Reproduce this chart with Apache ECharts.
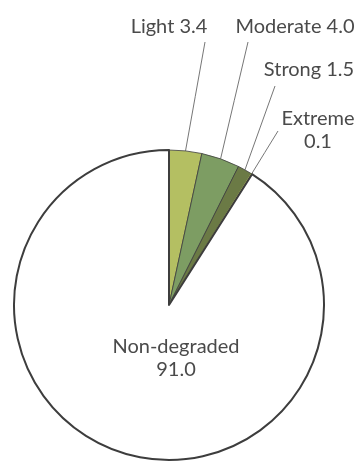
<!DOCTYPE html>
<html><head><meta charset="utf-8">
<script src="https://cdn.jsdelivr.net/npm/echarts@6/dist/echarts.min.js"></script>
<style>html,body{margin:0;padding:0;background:#fff}#c{width:364px;height:463px}</style>
</head><body><div id="c"></div>
<script>
const categories = ['Light', 'Moderate', 'Strong', 'Extreme', 'Non-degraded'];
const values = [3.4, 4.0, 1.5, 0.1, 91.0];
const labelTexts = ['Light 3.4', 'Moderate 4.0', 'Strong 1.5', 'Extreme\n0.1', 'Non-degraded\n91.0'];

const colors = ['#b4bf62', '#7d9d63', '#6b7a45', '#e2ea6c', '#ffffff'];
const labelPos = [
  {x: 169, y: 27, end: [205, 42]},
  {x: 295, y: 27, end: [248, 42]},
  {x: 309, y: 70, end: [275, 86]},
  {x: 318, y: 130, end: [278, 131]},
  {x: 176, y: 358, end: null}
];

const chart = echarts.init(document.getElementById('c'), null, {renderer: 'canvas'});
chart.setOption({
  animation: false,
  backgroundColor: '#fff',
  series: [{
    type: 'pie',
    center: [169, 305],
    radius: 155,
    startAngle: 90,
    clockwise: true,
    avoidLabelOverlap: false,
    data: categories.map((c, i) => ({
      name: c, value: values[i],
      itemStyle: {color: colors[i], borderColor: i === 3 ? '#c8d45a' : '#3d3d3d', borderWidth: i === 4 ? 2 : 0.8},
      label: {position: i === 4 ? 'inside' : 'outside'},
      labelLine: {show: i !== 4}
    })),
    label: {
      formatter: p => labelTexts[p.dataIndex],
      color: '#4a4a4a',
      fontFamily: 'Lato',
      fontSize: 20,
      lineHeight: 23,
      align: 'center'
    },
    labelLine: {lineStyle: {color: '#666', width: 0.9}, length: 10, length2: 10},
    labelLayout: function (params) {
      const lp = labelPos[params.dataIndex];
      const out = {x: lp.x, y: lp.y, align: 'center', verticalAlign: 'middle'};
      if (lp.end && params.labelLinePoints) {
        const s = params.labelLinePoints[0];
        out.labelLinePoints = [s, [(s[0] + lp.end[0]) / 2, (s[1] + lp.end[1]) / 2], lp.end];
      }
      return out;
    }
  }]
});
</script></body></html>
